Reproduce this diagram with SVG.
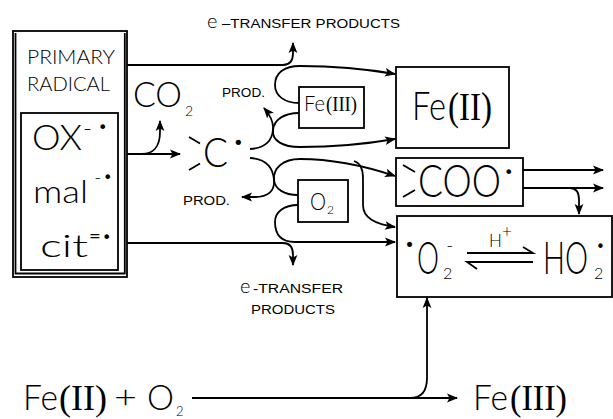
<svg xmlns="http://www.w3.org/2000/svg" width="613" height="419" viewBox="0 0 613 419">
<style>
.box{fill:none;stroke:#000;stroke-width:1.8}
.ln{fill:none;stroke:#000;stroke-width:1.8}
.ar{fill:none;stroke:#000;stroke-width:1.8;marker-end:url(#ah)}
text{font-family:"Lato","Liberation Sans",sans-serif;font-weight:300;fill:#000}
.rn{font-family:"Liberation Serif","DejaVu Serif",serif;font-weight:400}
.sm{font-family:"Liberation Sans",sans-serif;font-size:12.5px;font-weight:400}
.dt{font-family:"DejaVu Sans",sans-serif;font-weight:400}
</style>
<defs>
<marker id="ah" markerWidth="12" markerHeight="10" refX="10" refY="5" orient="auto" markerUnits="userSpaceOnUse">
<path d="M0,0.6 L11,5 L0,9.4 L2.5,5 Z" fill="#000"/>
</marker>
</defs>
<rect width="613" height="419" fill="#fff"/>

<g id="primary-radical">
<rect class="box" x="13" y="31" width="114" height="246"/>
<polyline class="ln" stroke-width="1.2" points="15.5,33 15.5,273.5 124.8,273.5 124.8,33"/>
<text x="27" y="64" font-size="19" textLength="88" lengthAdjust="spacingAndGlyphs">PRIMARY</text>
<text x="27" y="91" font-size="19" textLength="83" lengthAdjust="spacingAndGlyphs">RADICAL</text>
<rect class="box" x="21" y="113" width="97" height="157"/>
<text x="32" y="150" font-size="35" textLength="50" lengthAdjust="spacingAndGlyphs">OX</text>
<text x="84" y="133" font-size="14" class="dt">–</text>
<text x="98" y="133" font-size="16" class="dt">•</text>
<text x="33" y="203" font-size="31" textLength="55" lengthAdjust="spacingAndGlyphs">mal</text>
<text x="95" y="181" font-size="11" class="dt">–</text>
<text x="103" y="183" font-size="16" class="dt">•</text>
<text x="40" y="257" font-size="31" textLength="48" lengthAdjust="spacingAndGlyphs">cit</text>
<text x="89" y="241" font-size="14" class="dt">=</text>
<text x="102" y="243" font-size="16" class="dt">•</text>
</g>

<g id="co2">
<text x="133" y="107" font-size="35" textLength="49" lengthAdjust="spacingAndGlyphs">CO</text>
<text x="185" y="116" font-size="14">2</text>
</g>

<g id="c-radical">
<path class="ln" d="M189,137 L200,143.5 M189,170 L200,163.5"/>
<text x="203" y="167" font-size="41" textLength="25" lengthAdjust="spacingAndGlyphs">C</text>
<text x="233" y="149.3" font-size="18" class="dt">•</text>
</g>

<g id="etransfer-top">
<text x="207" y="28" font-size="20">e</text>
<text x="222" y="28" class="sm" textLength="178" lengthAdjust="spacingAndGlyphs">–TRANSFER PRODUCTS</text>
</g>

<g id="etransfer-bottom">
<text x="240" y="293" font-size="20">e</text>
<text x="253" y="293" class="sm" textLength="90" lengthAdjust="spacingAndGlyphs">-TRANSFER</text>
<text x="251" y="314" class="sm" textLength="84" lengthAdjust="spacingAndGlyphs">PRODUCTS</text>
</g>

<g id="prod-upper">
<text x="222" y="97" class="sm" textLength="43" lengthAdjust="spacingAndGlyphs">PROD.</text>
</g>
<g id="prod-lower">
<text x="183" y="205" class="sm" textLength="47" lengthAdjust="spacingAndGlyphs">PROD.</text>
</g>

<g id="fe3-reagent">
<rect class="box" x="299" y="87" width="65" height="41"/>
<text x="304" y="111" font-size="21" textLength="21" lengthAdjust="spacingAndGlyphs">Fe</text>
<text x="326" y="111" font-size="21" class="rn" textLength="31" lengthAdjust="spacingAndGlyphs">(III)</text>
</g>

<g id="o2-reagent">
<rect class="box" x="298" y="180" width="50" height="42"/>
<text x="310" y="210" font-size="24" textLength="16" lengthAdjust="spacingAndGlyphs">O</text>
<text x="327" y="214" font-size="12">2</text>
</g>

<g id="fe2">
<rect class="box" x="396" y="67" width="113" height="81"/>
<text x="412" y="120" font-size="39" textLength="34" lengthAdjust="spacingAndGlyphs">Fe</text>
<text x="448" y="120" font-size="40" class="rn" textLength="44" lengthAdjust="spacingAndGlyphs">(II)</text>
</g>

<g id="peroxyl">
<rect class="box" x="396" y="158" width="127" height="48"/>
<path class="ln" d="M403,165 L415,172 M403,197 L415,190"/>
<text x="418" y="197" font-size="45" textLength="83" lengthAdjust="spacingAndGlyphs">COO</text>
<text x="504" y="178.3" font-size="16" class="dt">•</text>
</g>

<g id="superoxide">
<rect class="box" x="397" y="216" width="215" height="81"/>
<text x="404.6" y="251.3" font-size="17" class="dt">•</text>
<text x="417" y="274" font-size="45" textLength="22" lengthAdjust="spacingAndGlyphs">O</text>
<text x="447" y="249" font-size="11" class="dt">–</text>
<text x="443" y="279" font-size="16">2</text>
<path class="ln" stroke-width="2" d="M467,253 H533 L523,247 M533,262 H467 L477,269"/>
<text x="489" y="247" font-size="17">H</text>
<text x="502" y="237" font-size="17">+</text>
<text x="543" y="274" font-size="45" textLength="45" lengthAdjust="spacingAndGlyphs">HO</text>
<text x="594" y="279" font-size="16">2</text>
<text x="596" y="252" font-size="15" class="dt">•</text>
</g>

<g id="fe2-o2">
<text x="23" y="410" font-size="35" textLength="35" lengthAdjust="spacingAndGlyphs">Fe</text>
<text x="59" y="410" font-size="36" class="rn" textLength="48" lengthAdjust="spacingAndGlyphs">(II)</text>
<text x="114" y="408" font-size="32" textLength="23" lengthAdjust="spacingAndGlyphs">+</text>
<text x="147" y="410" font-size="35" textLength="27" lengthAdjust="spacingAndGlyphs">O</text>
<text x="176" y="416" font-size="13">2</text>
</g>

<g id="fe3-product">
<text x="473" y="410" font-size="35" textLength="35" lengthAdjust="spacingAndGlyphs">Fe</text>
<text x="510" y="410" font-size="36" class="rn" textLength="57" lengthAdjust="spacingAndGlyphs">(III)</text>
</g>

<g id="connectors">
<path class="ar" d="M127,65 H283 C290,65 293,60 293,53 V43"/>
<path class="ar" d="M299,103 C285,103 275,96 275,85 C275,73 284,66 300,66 C340,66 372,70 395,74"/>
<path class="ar" d="M127,154 H180"/>
<path class="ar" d="M142,154 C152,154 160,148 160,132 V121"/>
<path class="ar" d="M250,149 C266,148 272,140 273,130 C274,122 270,115 264,108"/>
<path class="ar" d="M299,113 C285,113 274,119 273,130 C272,141 283,147 300,147 C340,147 372,143 395,139"/>
<path class="ar" d="M250,158 C266,159 273,168 274,180 C275,191 268,197 255,197 H242"/>
<path class="ar" d="M298,195 C284,195 275,189 274,180 C273,168 283,159 300,159 C335,159 365,166 395,176"/>
<path class="ar" d="M354,161 C360,163 363,168 363,178 V205 C363,218 375,224 395,227"/>
<path class="ar" d="M298,205 C284,205 275,212 275,222 C275,234 281,242 295,242 H395"/>
<path class="ar" d="M127,243 H283 C290,243 293,248 293,255 V265"/>
<path class="ar" d="M523,170 H603"/>
<path class="ar" d="M523,188 H603"/>
<path class="ar" d="M570,188 C576,188 579,192 579,200 V214"/>
<path class="ar" d="M192,398 H457"/>
<path class="ar" d="M410,398 C421,398 427,391 427,378 V298"/>
</g>
</svg>
